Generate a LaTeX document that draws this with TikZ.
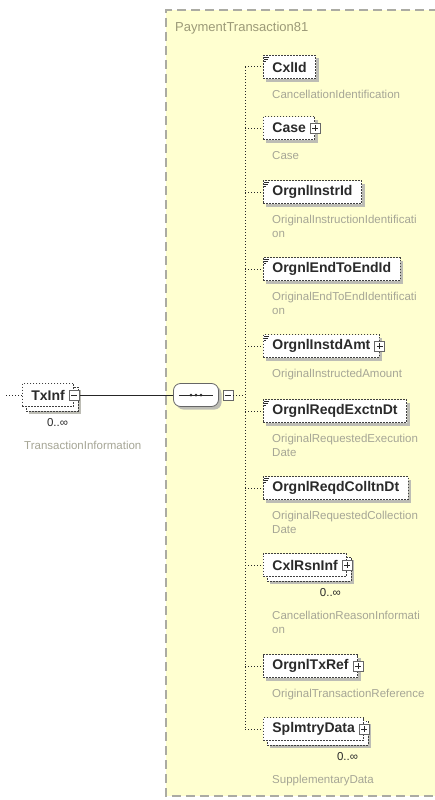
\documentclass[tikz,border=0pt]{standalone}
\usepackage{fontspec}
\setmainfont{Liberation Sans}
\usetikzlibrary{calc,shadows}
\pgfdeclarelayer{bottom}
\pgfdeclarelayer{back}
\pgfsetlayers{bottom,back,main}

\definecolor{panel}{HTML}{FFFFD0}
\definecolor{panelrule}{HTML}{ABABA3}
\definecolor{hint}{HTML}{A6A696}
\definecolor{titlec}{HTML}{9C9A78}
\definecolor{shade}{HTML}{BDBDB5}
\definecolor{ink}{HTML}{2A2A2A}

\tikzset{
  elemborder/.style={draw=black!75, line width=0.8pt, dash pattern=on 1.6pt off 1.4pt, fill=white},
  elem/.style={elemborder, minimum height=23pt, inner xsep=9pt, inner ysep=0pt,
    anchor=west, font=\fontsize{14}{16}\selectfont\bfseries, text=ink},
  shadowed/.style={drop shadow={shadow xshift=3pt, shadow yshift=-3pt, fill=shade, opacity=1}},
  stackbox/.style={elemborder, shadowed},
  hintlbl/.style={anchor=north west, inner sep=0pt, align=left, text=hint,
    font=\fontsize{11.5}{14}\selectfont},
  occurs/.style={anchor=east, inner sep=0pt, text=ink, font=\fontsize{11.5}{14}\selectfont},
  titlelbl/.style={anchor=west, inner sep=0pt, text=titlec, font=\fontsize{13}{15}\selectfont},
  btn/.style={draw=black!60, solid, line width=0.6pt, fill=white, minimum size=10pt, inner sep=0pt},
  minusbtn/.style={btn, path picture={\draw[ink, line width=0.9pt]
      ([xshift=2.2pt]path picture bounding box.west) -- ([xshift=-2.2pt]path picture bounding box.east);}},
  plusbtn/.style={btn, path picture={\draw[ink, line width=0.9pt]
      ([xshift=2.2pt]path picture bounding box.west) -- ([xshift=-2.2pt]path picture bounding box.east)
      ([yshift=2.2pt]path picture bounding box.south) -- ([yshift=-2.2pt]path picture bounding box.north);}},
  seqbox/.style={draw=black!60, solid, line width=0.8pt, fill=white, rounded corners=7pt,
    minimum width=45pt, minimum height=23pt, inner sep=0pt, shadowed},
  dotline/.style={black!85, line width=1pt, dash pattern=on 1pt off 2pt},
  solidline/.style={black!85, line width=1pt},
}

% small marker for elements of simple content
\newcommand\simplemark[1]{%
  \draw[ink, line width=0.7pt]
    ($(#1.north west)+(1,2)$) -- +(5,0)
    ($(#1.north west)+(1,4)$) -- +(3.5,0)
    ($(#1.north west)+(1,6)$) -- +(2,0);}

\begin{document}
\begin{tikzpicture}[x=1pt,y=-1pt]
\useasboundingbox (0,0) rectangle (434,800);

% complex type panel
\begin{pgfonlayer}{bottom}
  \fill[white] (0,0) rectangle (434,800);
  \fill[panel] (166,10) rectangle (438,796);
  \draw[panelrule, line width=1.2pt, dash pattern=on 9pt off 5pt]
    (438,10) -- (166,10) -- (166,796) -- (438,796);
\end{pgfonlayer}
\node[titlelbl] (ttl) at (175,28) {PaymentTransaction81};

% parent element TxInf
\coordinate (feed) at (6,395);
\node[elem] (txinf) at (22,395) {TxInf\hspace{12pt}};
\node[minusbtn] (txb) at (txinf.east) {};
\begin{pgfonlayer}{back}
  \path[stackbox] ($(txinf.north west)+(4,4)$) rectangle ($(txinf.south east)+(4,4)$);
\end{pgfonlayer}
\node[occurs] (txocc) at ($(txinf.east)+(-6,28)$) {0..∞};
\node[hintlbl] (txlbl) at (24,441) {TransactionInformation};
\draw[dotline] (feed) -- (txinf.west);

% sequence compositor
\node[seqbox] (seq) at (196,395) {};
\draw[ink, line width=0.8pt] ($(seq.west)+(6,0)$) -- ($(seq.east)+(-6,0)$);
\foreach \dx in {-5,0,5} \fill[ink] ($(seq.center)+(\dx,0)$) circle (1.5pt);
\node[minusbtn] (seqb) at ($(seq.east)+(9,0)$) {};
\draw[solidline] (txb.east) -- (seq.west);

% spine of the sequence
\coordinate (jn) at (245,395);
\coordinate (vtop) at (245,67);
\coordinate (vbot) at (245,729);
\draw[dotline] (seqb.east) -- (jn);
\draw[dotline] (vtop) -- (vbot);

% child elements
\node[elem, shadowed] (cxl) at (263,67) {CxlId\hspace{8pt}};
\simplemark{cxl}
\node[hintlbl] (cxl-l) at (272,90) {CancellationIdentification};

\node[elem, shadowed] (case) at (263,128) {Case\hspace{12pt}};
\node[plusbtn] (case-b) at (case.east) {};
\node[hintlbl] (case-l) at (272,151) {Case};

\node[elem, shadowed] (instr) at (263,192) {OrgnlInstrId};
\simplemark{instr}
\node[hintlbl] (instr-l) at (272,215) {OriginalInstructionIdentificati\\on};

\node[elem, shadowed] (e2e) at (263,269) {OrgnlEndToEndId};
\simplemark{e2e}
\node[hintlbl] (e2e-l) at (272,292) {OriginalEndToEndIdentificati\\on};

\node[elem, shadowed] (amt) at (263,346) {OrgnlInstdAmt\hspace{12pt}};
\simplemark{amt}
\node[plusbtn] (amt-b) at (amt.east) {};
\node[hintlbl] (amt-l) at (272,369) {OriginalInstructedAmount};

\node[elem, shadowed] (exctn) at (263,411) {OrgnlReqdExctnDt};
\simplemark{exctn}
\node[hintlbl] (exctn-l) at (272,434) {OriginalRequestedExecution\\Date};

\node[elem, shadowed] (colltn) at (263,488) {OrgnlReqdColltnDt};
\simplemark{colltn}
\node[hintlbl] (colltn-l) at (272,511) {OriginalRequestedCollection\\Date};

\node[elem] (rsn) at (263,565) {CxlRsnInf\hspace{12pt}};
\node[plusbtn] (rsn-b) at (rsn.east) {};
\begin{pgfonlayer}{back}
  \path[stackbox] ($(rsn.north west)+(4,4)$) rectangle ($(rsn.south east)+(4,4)$);
\end{pgfonlayer}
\node[occurs] (rsn-o) at ($(rsn.east)+(-6,28)$) {0..∞};
\node[hintlbl] (rsn-l) at (272,611) {CancellationReasonInformati\\on};

\node[elem, shadowed] (txref) at (263,666) {OrgnlTxRef\hspace{12pt}};
\node[plusbtn] (txref-b) at (txref.east) {};
\node[hintlbl] (txref-l) at (272,689) {OriginalTransactionReference};

\node[elem] (splmt) at (263,729) {SplmtryData\hspace{12pt}};
\node[plusbtn] (splmt-b) at (splmt.east) {};
\begin{pgfonlayer}{back}
  \path[stackbox] ($(splmt.north west)+(4,4)$) rectangle ($(splmt.south east)+(4,4)$);
\end{pgfonlayer}
\node[occurs] (splmt-o) at ($(splmt.east)+(-6,28)$) {0..∞};
\node[hintlbl] (splmt-l) at (272,775) {SupplementaryData};

% branches from the spine
\foreach \c in {cxl,case,instr,e2e,amt,exctn,colltn,rsn,txref,splmt}
  \draw[dotline] (\c.west -| vtop) -- (\c.west);
\end{tikzpicture}
\end{document}
